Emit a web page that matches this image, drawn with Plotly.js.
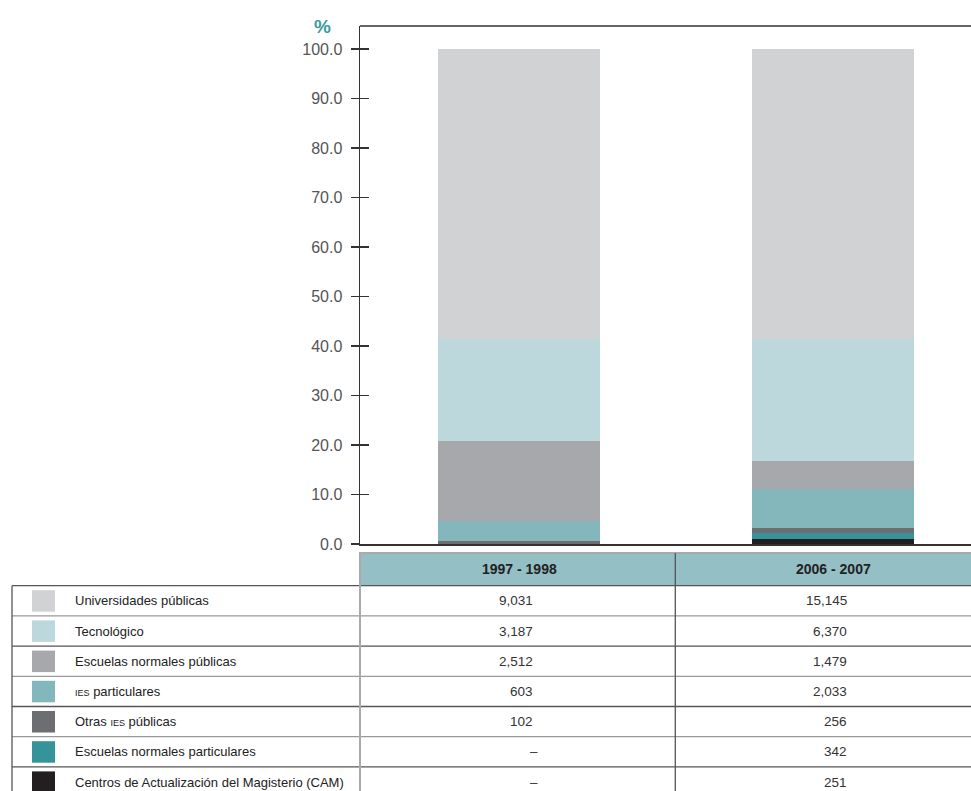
<!DOCTYPE html>
<html>
<head>
<meta charset="utf-8">
<script src="https://cdn.plot.ly/plotly-3.0.1.min.js"></script>
<style>html,body{margin:0;padding:0;background:#fff;}#chart{width:971px;height:791px;}</style>
</head>
<body>
<div id="chart"></div>
<script>
// ---- data ----
const years = ["1997 - 1998", "2006 - 2007"];
const categories = [
  "Universidades públicas",
  "Tecnológico",
  "Escuelas normales públicas",
  "<span style='font-size:9px'>IES</span> particulares",
  "Otras <span style='font-size:9px'>IES</span> públicas",
  "Escuelas normales particulares",
  "Centros de Actualización del Magisterio (CAM)"
];
const values1997 = [9031, 3187, 2512, 603, 102, null, null];
const values2006 = [15145, 6370, 1479, 2033, 256, 342, 251];
const colors = ["#d1d2d4", "#bcd8dd", "#a7a8ac", "#84b7bc", "#6d6e71", "#35939a", "#231f20"];
const yTicks = [0, 10, 20, 30, 40, 50, 60, 70, 80, 90, 100];

// ---- geometry helpers (pixel -> paper) ----
const W = 971, H = 791, L = 360, R = 0, T = 26, B = 247;
const PW = W - L - R, PH = H - T - B;
const px = p => (p - L) / PW;
const py = p => (H - B - p) / PH;

const tot97 = values1997.reduce((a, v) => a + (v || 0), 0);
const tot06 = values2006.reduce((a, v) => a + (v || 0), 0);

const traces = [];
for (let i = categories.length - 1; i >= 0; i--) {
  traces.push({
    type: "bar",
    x: years,
    y: [(values1997[i] || 0) / tot97 * 100, (values2006[i] || 0) / tot06 * 100],
    marker: {color: colors[i], line: {width: 0}},
    width: 0.516,
    name: categories[i],
    hoverinfo: "skip"
  });
}
// invisible trace for the overlay axis (inside ticks)
traces.push({type: "scatter", x: years, y: [0, 0], yaxis: "y2", mode: "none", hoverinfo: "skip", showlegend: false});

const fontMain = "Liberation Sans, Arial, sans-serif";
const shapes = [];
const annotations = [];

// top border of the plot frame
shapes.push({type: "line", xref: "paper", yref: "paper", x0: 0, x1: 1, y0: 1, y1: 1, line: {color: "#333", width: 1.5}});

// table header
const hdrTop = 553, rowTop = 585.7, rowH = 30.2;
shapes.push({type: "rect", xref: "paper", yref: "paper", x0: 0, x1: 1, y0: py(hdrTop), y1: py(rowTop), fillcolor: "#93bfc5", line: {width: 0}, layer: "below"});
shapes.push({type: "line", xref: "paper", yref: "paper", x0: 0, x1: 1, y0: py(hdrTop), y1: py(hdrTop), line: {color: "#aaa", width: 2}});
years.forEach((yr) => {
  annotations.push({xref: "x", yref: "paper", x: yr, y: py((hdrTop + rowTop) / 2), text: "<b>" + yr + "</b>", showarrow: false, font: {family: fontMain, size: 14, color: "#222"}, xanchor: "center", yanchor: "middle"});
});

// rows
const nRows = categories.length;
for (let i = 0; i <= nRows; i++) {
  const yy = rowTop + rowH * i;
  if (yy < H) {
    shapes.push({type: "line", xref: "paper", yref: "paper", x0: px(12), x1: 1, y0: py(yy), y1: py(yy), line: {color: i % 2 ? "#999" : "#555", width: 1.3}});
  }
}
for (let i = 0; i < nRows; i++) {
  const top = rowTop + rowH * i;
  const mid = top + rowH / 2;
  shapes.push({type: "rect", xref: "paper", yref: "paper", x0: px(32), x1: px(55), y0: py(top + 4.5), y1: py(top + 26), fillcolor: colors[i], line: {width: 0}});
  annotations.push({xref: "paper", yref: "paper", x: px(73), y: py(mid), text: categories[i], showarrow: false, font: {family: fontMain, size: 13, color: "#222"}, xanchor: "left", yanchor: "middle"});
  [values1997, values2006].forEach((arr, j) => {
    const v = arr[i];
    const txt = v == null ? "–" : v.toLocaleString("en-US");
    annotations.push({xref: "x", yref: "paper", x: years[j], y: py(mid), text: txt, showarrow: false, font: {family: fontMain, size: 13.5, color: "#333"}, xanchor: "right", yanchor: "middle", xshift: v == null ? 21 : 15.5});
  });
}
// vertical lines
shapes.push({type: "line", xref: "paper", yref: "paper", x0: px(12), x1: px(12), y0: py(rowTop), y1: py(H + 5), line: {color: "#555", width: 1.3}});
shapes.push({type: "line", xref: "paper", yref: "paper", x0: px(360), x1: px(360), y0: py(hdrTop - 1), y1: py(H + 5), line: {color: "#aaa", width: 2}});
shapes.push({type: "line", xref: "paper", yref: "paper", x0: px(675.3), x1: px(675.3), y0: py(hdrTop), y1: py(H + 5), line: {color: "#555", width: 1.3}});

// % label
annotations.push({xref: "paper", yref: "paper", x: px(322), y: py(26), text: "<b>%</b>", showarrow: false, font: {family: fontMain, size: 19, color: "#3a9aa0"}, xanchor: "center", yanchor: "middle"});

const yMax = 100 + (49 - T) / ((544 - 49) / 100);
const layout = {
  width: W, height: H,
  margin: {l: L, r: R, t: T, b: B, pad: 0},
  paper_bgcolor: "#fff", plot_bgcolor: "#fff",
  barmode: "stack",
  showlegend: false,
  xaxis: {type: "category", range: [-0.5064, 1.4395], showticklabels: false, ticks: "", showgrid: false, zeroline: false, showline: true, linecolor: "#333", linewidth: 1.5, fixedrange: true},
  yaxis: {range: [0, yMax], tickvals: yTicks, tickformat: ".1f", ticks: "outside", ticklen: 8, tickwidth: 1.3, tickcolor: "#333", showgrid: false, zeroline: false, showline: true, linecolor: "#333", linewidth: 1.5, tickfont: {family: fontMain, size: 16, color: "#555"}, ticklabelstandoff: 5, fixedrange: true},
  yaxis2: {overlaying: "y", side: "left", range: [0, yMax], tickvals: yTicks, ticks: "inside", ticklen: 9, tickwidth: 1.3, tickcolor: "#333", showticklabels: false, showgrid: false, zeroline: false, showline: false, fixedrange: true},
  shapes: shapes,
  annotations: annotations
};
Plotly.newPlot("chart", traces, layout, {displayModeBar: false, staticPlot: true});
</script>
</body>
</html>
